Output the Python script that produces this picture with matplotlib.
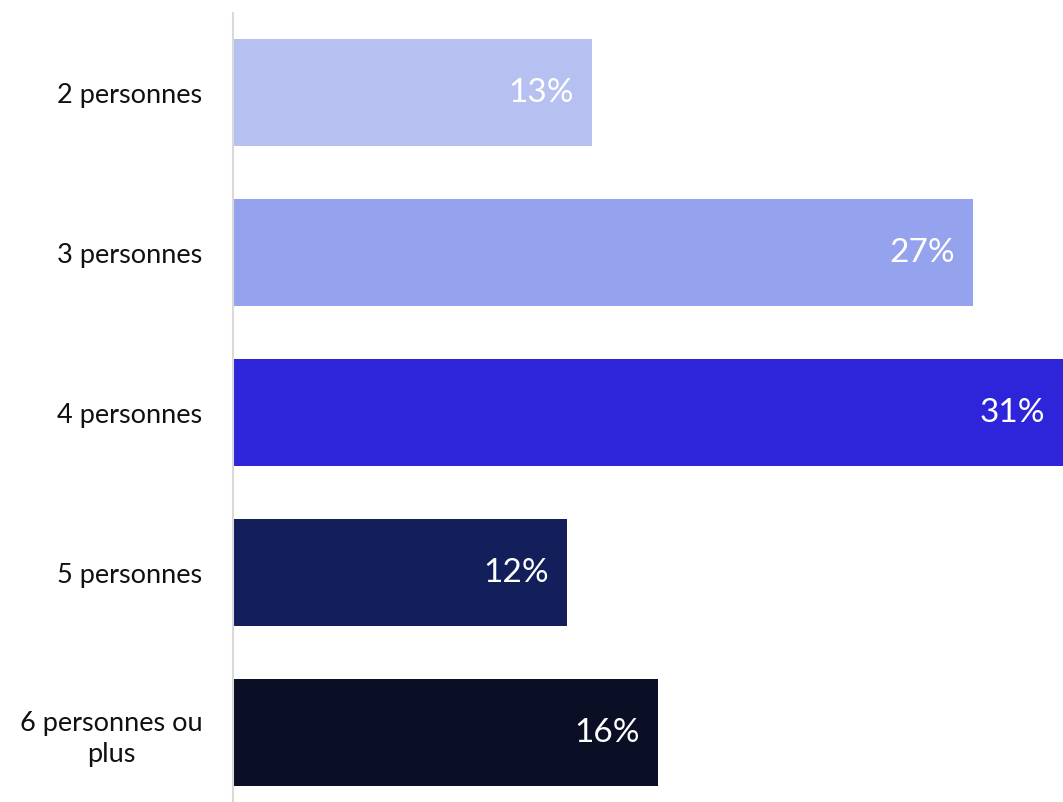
import matplotlib.pyplot as plt

categories = ['2 personnes', '3 personnes', '4 personnes', '5 personnes', '6 personnes ou\nplus']
values = [13.1, 27.0, 30.6, 12.2, 15.5]
labels = ['13%', '27%', '31%', '12%', '16%']
colors = ['#B6C0F1', '#95A3EE', '#2E24D9', '#121F5A', '#0A0F26']

plt.rcParams['font.family'] = ['Lato', 'DejaVu Sans']

fig = plt.figure(figsize=(10.63, 8.03), dpi=100)
ax = fig.add_axes([233 / 1063, -10.5 / 803, 830 / 1063, 800 / 803])

y = range(len(categories))
ax.barh(y, values, height=0.67, color=colors)
ax.set_xlim(0, 30.3)
ax.set_ylim(4.5, -0.5)

for i, (v, lab) in enumerate(zip(values, labels)):
    xr = min(v, 30.3)
    ax.annotate(lab, (xr, i), xytext=(-13, 0), textcoords='offset points',
                ha='right', va='center', color='white', fontsize=24)

ax.set_yticks(list(y))
ax.set_yticklabels(categories, fontsize=19.5, ha='right', multialignment='center',
                   linespacing=1.3, color='#111111')
ax.tick_params(axis='y', length=0, pad=22)
ax.set_xticks([])
for s in ['top', 'right', 'bottom']:
    ax.spines[s].set_visible(False)
ax.spines['left'].set_color('#D9D9D9')
ax.spines['left'].set_linewidth(1.5)

fig.savefig('out.png', dpi=100)
